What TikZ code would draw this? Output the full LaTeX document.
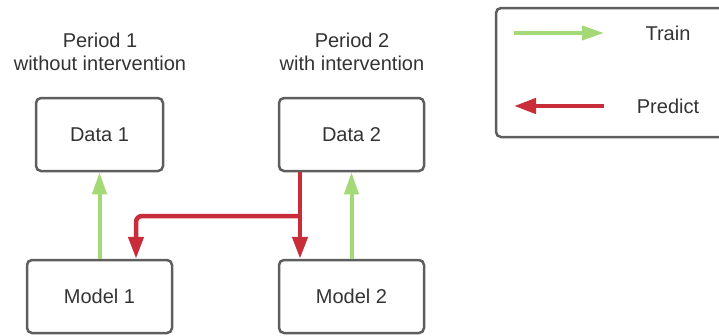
\documentclass[tikz,border=0pt]{standalone}
\usepackage{fontspec}
\setmainfont{Liberation Sans}
\usetikzlibrary{arrows.meta}

\definecolor{boxgray}{HTML}{5E5E5E}
\definecolor{txtgray}{HTML}{333333}
\definecolor{traingreen}{HTML}{A3D977}
\definecolor{predictred}{HTML}{C92D39}

\begin{document}
\begin{tikzpicture}[x=1pt,y=-1pt,
    font=\fontsize{20}{23}\selectfont, text=txtgray,
    box/.style={draw=boxgray, line width=2.5pt, rounded corners=5pt,
                minimum height=73pt, minimum width=145pt},
    train/.style={draw=traingreen, line width=4pt,
                  -{Triangle[width=14pt,length=22pt]}},
    predict/.style={draw=predictred, line width=4.5pt,
                    -{Triangle[width=15pt,length=22pt]}}]
                \useasboundingbox (0,0) rectangle (719,335);

                % Titles
                \node[align=center] (title1) at (100,52) {Period 1\\without intervention};
                \node[align=center] (title2) at (352,52) {Period 2\\with intervention};

                % Boxes
                \node[box, minimum width=127pt] (data1) at (99.5,134.5) {Data 1};
                \node[box] (data2) at (351.5,134.5) {Data 2};
                \node[box] (model1) at (99.5,296.5) {Model 1};
                \node[box] (model2) at (351.5,296.5) {Model 2};

                % Train arrows
                \draw[train] (model1.north) -- (data1.south);
                \draw[train] (model2.north) -- (data2.south);

                % Predict arrows
                \coordinate (split) at (300,216);
                \coordinate (turn) at (136,216);
                \draw[predict] (data2.south -| split) -- (model2.north -| split);
                \draw[predict, rounded corners=6pt] (split) -- (turn) -- (model1.north -| turn);

                % Legend
                \draw[boxgray, line width=2.5pt, rounded corners=5pt] (496,8) rectangle (735,137);
                \coordinate (tr1) at (514,33);
                \coordinate (tr2) at (604,33);
                \coordinate (pr1) at (604,106);
                \coordinate (pr2) at (514,106);
                \draw[train] (tr1) -- (tr2);
                \draw[predict] (pr1) -- (pr2);
                \node (trainlbl) at (668,33) {Train};
                \node (predictlbl) at (668,106) {Predict};

            \end{tikzpicture}
\end{document}
